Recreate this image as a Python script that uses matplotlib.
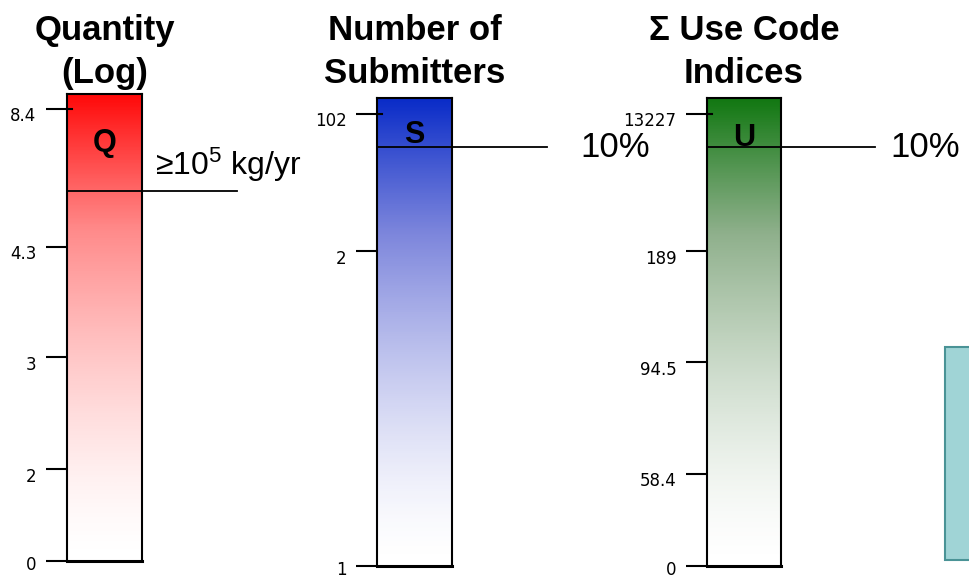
import numpy as np
import matplotlib
matplotlib.use('Agg')
from matplotlib import pyplot as plt
from matplotlib.colors import LinearSegmentedColormap
from matplotlib.patches import Rectangle
from matplotlib.transforms import ScaledTranslation

plt.rcParams['font.family'] = ['Liberation Sans', 'DejaVu Sans']
plt.rcParams['mathtext.fontset'] = 'custom'
plt.rcParams['mathtext.rm'] = 'Liberation Sans'
plt.rcParams['mathtext.default'] = 'regular'

# bar titles and letters
titles = ['Quantity\n(Log)', 'Number of\nSubmitters', 'Σ Use Code\nIndices']
letters = ['Q', 'S', 'U']
top_colors = ['#ff0a0a', '#0a2cc8', '#127812']
mid_colors = ['#ff8a8a', '#7d86dc', '#8fb08c']

# tick labels and their percentile rank along each bar
q_tick_labels = ['0', '2', '3', '4.3', '8.4']
q_tick_pct = [0.0, 0.197, 0.436, 0.673, 0.968]
s_tick_labels = ['1', '2', '102']
s_tick_pct = [0.0, 0.673, 0.966]
u_tick_labels = ['0', '58.4', '94.5', '189', '13227']
u_tick_pct = [0.0, 0.197, 0.436, 0.673, 0.966]

# cut-off line per bar (percentile) and its label
cut_pct = [0.793, 0.895, 0.895]
cut_labels = ['≥10$^5$ kg/yr', '10%', '10%']

W, H = 969, 580
fig = plt.figure(figsize=(W / 100, H / 100), dpi=100)

# pixel boxes of the bars: left, top, right, bottom
boxes = [(67, 94, 142, 561), (377, 98, 452, 566), (707, 98, 781, 566)]
label_x = [1.17, 2.71, 2.48]
label_va = ['bottom', 'center', 'center']
letter_y = [0.895, 0.922, 0.915]

ticks = [(q_tick_pct, q_tick_labels), (s_tick_pct, s_tick_labels), (u_tick_pct, u_tick_labels)]

for i, (l, t, r, b) in enumerate(boxes):
    ax = fig.add_axes([l / W, 1 - b / H, (r - l) / W, (b - t) / H])
    cmap = LinearSegmentedColormap.from_list(f'g{i}', [(0, '#ffffff'), (0.6, mid_colors[i]),
                                                        (1, top_colors[i])])
    grad = np.linspace(0, 1, 256).reshape(-1, 1) ** 1.5
    ax.imshow(grad, cmap=cmap, vmin=0, vmax=1, aspect='auto', origin='lower', extent=[0, 1, 0, 1])
    ax.set_xlim(0, 1)
    ax.set_ylim(0, 1)
    ax.set_xticks([])
    pct, labs = ticks[i]
    ax.set_yticks(pct, labs)
    ax.tick_params(axis='y', length=15, width=1.5, pad=7, labelsize=12)
    for k, lab in enumerate(ax.get_yticklabels()):
        lab.set_fontfamily('DejaVu Sans')
        dy = -1.5 if k == 0 else -4
        lab.set_transform(lab.get_transform() + ScaledTranslation(0, dy / 72, fig.dpi_scale_trans))
    for sp in ax.spines.values():
        sp.set_linewidth(1.5)
        sp.set_color('black')
    ax.spines['bottom'].set_linewidth(2.2)
    # top tick pokes into the bar
    ax.plot([0, 0.07], [pct[-1], pct[-1]], color='black', lw=1.5)

    ax.plot([0, 2.27], [cut_pct[i], cut_pct[i]], color='black', lw=1.3,
            transform=ax.get_yaxis_transform(), clip_on=False)
    if label_va[i] == 'bottom':
        ax.annotate(cut_labels[i], xy=(label_x[i], cut_pct[i]), xycoords=ax.get_yaxis_transform(),
                    xytext=(0, 5), textcoords='offset points', va='bottom', ha='left', fontsize=23)
    else:
        ax.text(label_x[i], cut_pct[i], cut_labels[i], transform=ax.get_yaxis_transform(),
                va='center', ha='left', fontsize=25)

    ax.text(0.5, letter_y[i], letters[i], transform=ax.transAxes, ha='center', va='center',
            fontsize=22, fontweight='bold')

    fig.text((l + r) / 2 / W, 1 - 52 / H, titles[i], ha='center', va='center',
             fontsize=25, fontweight='bold', linespacing=1.4)

# partly visible box on the right edge
fig.patches.append(Rectangle((945 / W, 1 - 560 / H), 60 / W, 213 / H, transform=fig.transFigure,
                             facecolor='#a0d4d6', edgecolor='#4a9396', lw=1.5))

fig.savefig('out.png', dpi=100)
